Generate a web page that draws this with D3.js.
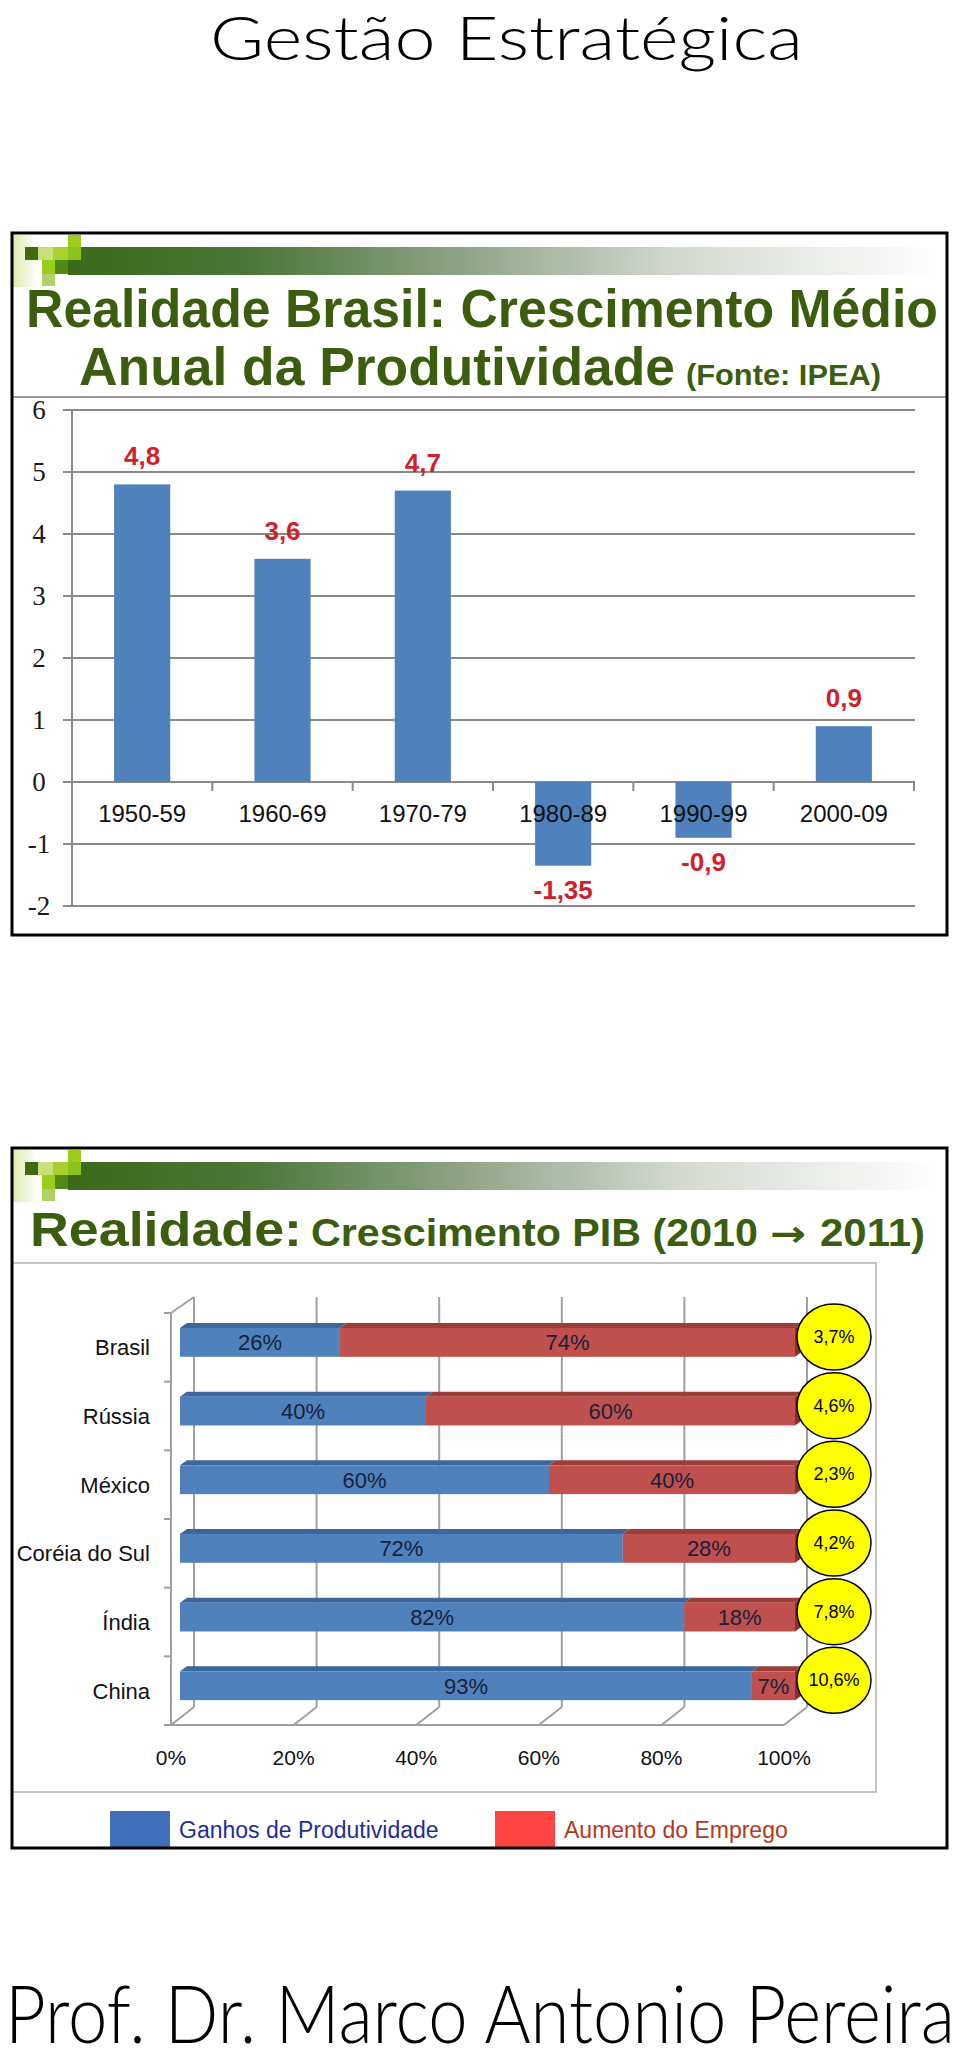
<!DOCTYPE html>
<html><head><meta charset="utf-8">
<script src="https://cdn.jsdelivr.net/npm/d3@7"></script>
<style>body{margin:0;background:#fff}svg{display:block}</style>
</head><body><svg id="c" width="960" height="2055"></svg>
<script>
// ---------- data ----------
const periods = ["1950-59","1960-69","1970-79","1980-89","1990-99","2000-09"];
const productivity = [4.8, 3.6, 4.7, -1.35, -0.9, 0.9];
const yTicks1 = [-2,-1,0,1,2,3,4,5,6];

const countries = ["Brasil","Rússia","México","Coréia do Sul","Índia","China"];
const ganhos = [26, 40, 60, 72, 82, 93];
const emprego = [74, 60, 40, 28, 18, 7];
const pib = [3.7, 4.6, 2.3, 4.2, 7.8, 10.6];
const xTicks2 = [0, 20, 40, 60, 80, 100];
const seriesNames = ["Ganhos de Produtividade", "Aumento do Emprego"];

// ---------- setup ----------
const loc = d3.formatLocale({decimal: ",", thousands: ".", grouping: [3], currency: ["R$", ""], minus: "-"});
const fmtVal = loc.format(".2~f");
const fmtPib = v => loc.format(".1f")(v) + "%";
const fmtPct = v => v + "%";

const svg = d3.select("#c");
const defs = svg.append("defs");
const hb = defs.append("linearGradient").attr("id","hb").attr("x1",0).attr("x2",1).attr("y1",0).attr("y2",0);
[[0,"#3a6a1a"],[0.2,"#4a7636"],[0.45,"#8fa287"],[0.7,"#d3d9d0"],[1,"#ffffff"]]
  .forEach(([o,c]) => hb.append("stop").attr("offset",o).attr("stop-color",c));
const pl = defs.append("linearGradient").attr("id","pl").attr("x1",0).attr("x2",1).attr("y1",0).attr("y2",0);
[[0,"#dcecaa"],[1,"#ffffff"]].forEach(([o,c]) => pl.append("stop").attr("offset",o).attr("stop-color",c));

const SANS = "'Liberation Sans', Arial, sans-serif";
const NARROW = "'Liberation Sans Narrow', 'Liberation Sans', Arial, sans-serif";
const DECO = "Lato, 'Open Sans', sans-serif";

// header
svg.append("text").attr("x",210).attr("y",60)
  .attr("textLength",593).attr("lengthAdjust","spacingAndGlyphs")
  .style("font-family",DECO).style("font-size","62px").style("font-weight",300)
  .text("Gestão Estratégica");

function deco(T){
  const g = svg.append("g");
  g.append("rect").attr("x",13).attr("y",T+2).attr("width",24).attr("height",52).attr("fill","url(#pl)");
  g.append("rect").attr("x",68).attr("y",T+14).attr("width",872).attr("height",28).attr("fill","url(#hb)");
  const sq = [[68,T+2,13,12,"#9ccc1c"],[25,T+14,13,13,"#3d6b12"],[38,T+14,15,13,"#c8e07a"],
              [53,T+14,15,13,"#a8d030"],[68,T+14,13,13,"#8cc21a"],[42,T+27,13,14,"#9ccc1c"],
              [55,T+27,13,14,"#4e8a18"],[42,T+41,13,12,"#b0d068"]];
  sq.forEach(s => g.append("rect").attr("x",s[0]).attr("y",s[1]).attr("width",s[2]).attr("height",s[3]).attr("fill",s[4]));
}

// ---------- panel 1 ----------
deco(233);
const TG = "#3a5e0e";
svg.append("text").attr("x",26).attr("y",327).attr("textLength",912).attr("lengthAdjust","spacingAndGlyphs")
  .style("font-family",NARROW).style("font-weight","bold").style("font-size","53px").attr("fill",TG)
  .text("Realidade Brasil: Crescimento Médio");
svg.append("text").attr("x",79).attr("y",385).attr("textLength",596).attr("lengthAdjust","spacingAndGlyphs")
  .style("font-family",NARROW).style("font-weight","bold").style("font-size","53px").attr("fill",TG)
  .text("Anual da  Produtividade");
svg.append("text").attr("x",686).attr("y",385).attr("textLength",195).attr("lengthAdjust","spacingAndGlyphs")
  .style("font-family",NARROW).style("font-weight","bold").style("font-size","30px").attr("fill",TG)
  .text("(Fonte: IPEA)");
svg.append("line").attr("x1",12).attr("x2",947).attr("y1",397).attr("y2",397).attr("stroke","#9a9a9a").attr("stroke-width",2);

const y1 = d3.scaleLinear().domain([-2,6]).range([906,410]);
const x1 = d3.scaleBand().domain(periods).range([72,914]).paddingInner(0.6).paddingOuter(0.3);
const c1 = svg.append("g");
const GRID = "#8a8a8a";
c1.selectAll("line.grid").data(yTicks1).join("line").attr("class","grid")
  .attr("x1",63).attr("x2",915).attr("y1",d=>y1(d)).attr("y2",d=>y1(d))
  .attr("stroke",GRID).attr("stroke-width",2);
c1.append("line").attr("x1",72).attr("x2",72).attr("y1",y1(6)).attr("y2",y1(-2)).attr("stroke",GRID).attr("stroke-width",2);
c1.selectAll("text.yt").data(yTicks1).join("text").attr("class","yt")
  .attr("x",39).attr("y",d=>y1(d)+9).attr("text-anchor","middle")
  .style("font-family","'Liberation Serif', serif").style("font-size","27px").attr("fill","#1a1a1a")
  .text(d=>d);
const step1 = x1.step();
c1.selectAll("line.bt").data(d3.range(1,7)).join("line").attr("class","bt")
  .attr("x1",d=>72+d*step1).attr("x2",d=>72+d*step1).attr("y1",y1(0)).attr("y2",y1(0)+9)
  .attr("stroke",GRID).attr("stroke-width",2);
c1.selectAll("rect.bar").data(productivity).join("rect").attr("class","bar")
  .attr("x",(d,i)=>x1(periods[i])).attr("width",x1.bandwidth())
  .attr("y",d=>Math.min(y1(d),y1(0))).attr("height",d=>Math.abs(y1(d)-y1(0)))
  .attr("fill","#4f81bd");
c1.selectAll("text.cat").data(periods).join("text").attr("class","cat")
  .attr("x",d=>x1(d)+x1.bandwidth()/2).attr("y",822).attr("text-anchor","middle")
  .style("font-family",SANS).style("font-size","24px").attr("fill","#111").text(d=>d);
c1.selectAll("text.val").data(productivity).join("text").attr("class","val")
  .attr("x",(d,i)=>x1(periods[i])+x1.bandwidth()/2)
  .attr("y",d=> d>=0 ? y1(d)-19 : y1(d)+33).attr("text-anchor","middle")
  .style("font-family",SANS).style("font-weight","bold").style("font-size","26px").attr("fill","#d11f2b")
  .text(d=>fmtVal(d));

svg.append("rect").attr("x",12).attr("y",233).attr("width",935).attr("height",702)
  .attr("fill","none").attr("stroke","#000").attr("stroke-width",3);

// ---------- panel 2 ----------
deco(1148);
const t2 = svg.append("text").attr("y",1246).attr("fill",TG)
  .style("font-family",NARROW).style("font-weight","bold");
t2.append("tspan").attr("x",30).attr("textLength",272).attr("lengthAdjust","spacingAndGlyphs")
  .style("font-size","49px").text("Realidade:");
t2.append("tspan").attr("x",311).attr("textLength",447).attr("lengthAdjust","spacingAndGlyphs")
  .style("font-size","39px").text("Crescimento PIB (2010");
t2.append("tspan").attr("x",770).attr("textLength",36).attr("lengthAdjust","spacingAndGlyphs")
  .style("font-family","'DejaVu Sans', sans-serif").style("font-size","36px").text("\u2192");
t2.append("tspan").attr("x",820).attr("textLength",105).attr("lengthAdjust","spacingAndGlyphs")
  .style("font-size","39px").text("2011)");

svg.append("rect").attr("x",12).attr("y",1263).attr("width",864).attr("height",529)
  .attr("fill","none").attr("stroke","#b0b0b0").attr("stroke-width",1.5);

const c2 = svg.append("g");
const gx = d3.scaleLinear().domain([0,100]).range([171,784]);   // floor front
const bx = d3.scaleLinear().domain([0,100]).range([180,795]);   // bar front faces
const yb = d3.scaleBand().domain(countries).range([1313,1725]);
const DX = 23, DY = 18, GRID2 = "#a0a0a0";
const backTop = 1297, backBottom = 1707, floorFront = 1725;
c2.selectAll("line.vg").data(xTicks2).join("line").attr("class","vg")
  .attr("x1",d=>gx(d)+DX).attr("x2",d=>gx(d)+DX).attr("y1",backTop).attr("y2",backBottom)
  .attr("stroke",GRID2).attr("stroke-width",2);
c2.selectAll("line.fd").data(xTicks2).join("line").attr("class","fd")
  .attr("x1",d=>gx(d)+DX).attr("x2",d=>gx(d)).attr("y1",backBottom).attr("y2",floorFront)
  .attr("stroke",GRID2).attr("stroke-width",2);
c2.append("line").attr("x1",gx(0)).attr("x2",gx(100)).attr("y1",floorFront).attr("y2",floorFront)
  .attr("stroke",GRID2).attr("stroke-width",2);
c2.append("line").attr("x1",gx(0)).attr("x2",gx(0)).attr("y1",backTop+DY-2).attr("y2",floorFront)
  .attr("stroke",GRID2).attr("stroke-width",2);
c2.append("line").attr("x1",gx(0)).attr("x2",gx(0)+DX).attr("y1",backTop+DY-2).attr("y2",backTop)
  .attr("stroke",GRID2).attr("stroke-width",2);
const bounds = countries.map(c=>yb(c)).concat([1725]);
c2.selectAll("line.lt").data(bounds).join("line").attr("class","lt")
  .attr("x1",gx(0)-7).attr("x2",gx(0)).attr("y1",d=>d).attr("y2",d=>d)
  .attr("stroke",GRID2).attr("stroke-width",2);

const st = yb.step();
const faceY = c => yb(c) + st*0.218, faceH = st*0.42;
const ddx = 7, ddy = 5;
const segs = [];
countries.forEach((c,i)=>{
  segs.push({c, s:0, e:ganhos[i], v:ganhos[i], front:"#4f81bd", top:"#3c669e", side:"#35598a"});
  segs.push({c, s:ganhos[i], e:ganhos[i]+emprego[i], v:emprego[i], front:"#c0504d", top:"#9c3d3a", side:"#8a302d"});
});
c2.selectAll("polygon.top").data(segs).join("polygon").attr("class","top")
  .attr("points",d=>{const x0=bx(d.s),x1_=bx(d.e),y=faceY(d.c);
    return [[x0,y],[x0+ddx,y-ddy],[x1_+ddx,y-ddy],[x1_,y]].map(p=>p.join(",")).join(" ");})
  .attr("fill",d=>d.top);
c2.selectAll("polygon.side").data(segs.filter((d,i)=>i%2===1)).join("polygon").attr("class","side")
  .attr("points",d=>{const x=bx(d.e),y=faceY(d.c);
    return [[x,y],[x+ddx,y-ddy],[x+ddx,y+faceH-ddy],[x,y+faceH]].map(p=>p.join(",")).join(" ");})
  .attr("fill",d=>d.side);
c2.selectAll("rect.seg").data(segs).join("rect").attr("class","seg")
  .attr("x",d=>bx(d.s)).attr("width",d=>bx(d.e)-bx(d.s))
  .attr("y",d=>faceY(d.c)).attr("height",faceH).attr("fill",d=>d.front);
c2.selectAll("text.sl").data(segs).join("text").attr("class","sl")
  .attr("x",d=>(bx(d.s)+bx(d.e))/2).attr("y",d=>faceY(d.c)+faceH/2+8).attr("text-anchor","middle")
  .style("font-family",SANS).style("font-size","22px").attr("fill","#18213a").text(d=>fmtPct(d.v));

c2.selectAll("text.cc").data(countries).join("text").attr("class","cc")
  .attr("x",150).attr("y",c=>yb(c)+st/2+8).attr("text-anchor","end")
  .style("font-family",SANS).style("font-size","22px").attr("fill","#111").text(c=>c);
c2.selectAll("text.xl").data(xTicks2).join("text").attr("class","xl")
  .attr("x",d=>gx(d)).attr("y",1765).attr("text-anchor","middle")
  .style("font-family",SANS).style("font-size","21px").attr("fill","#111").text(d=>d+"%");

c2.selectAll("ellipse.pib").data(pib).join("ellipse").attr("class","pib")
  .attr("cx",834).attr("cy",(d,i)=>yb(countries[i])+24).attr("rx",37).attr("ry",33)
  .attr("fill","#ffff00").attr("stroke","#000").attr("stroke-width",1.5);
c2.selectAll("text.pt").data(pib).join("text").attr("class","pt")
  .attr("x",834).attr("y",(d,i)=>yb(countries[i])+24+6).attr("text-anchor","middle")
  .style("font-family",SANS).style("font-size","18px").attr("fill","#000").text(d=>fmtPib(d));

const lg = svg.append("g");
const legColors = ["#3f6fb8","#ff4444"], legText = ["#1c2e96","#b23a1a"], legX = [110,495];
seriesNames.forEach((n,i)=>{
  lg.append("rect").attr("x",legX[i]).attr("y",1811).attr("width",60).attr("height",37).attr("fill",legColors[i]);
  lg.append("text").attr("x",legX[i]+69).attr("y",1838)
    .style("font-family",SANS).style("font-size","23px").attr("fill",legText[i]).text(n);
});

svg.append("rect").attr("x",12).attr("y",1148).attr("width",935).attr("height",700)
  .attr("fill","none").attr("stroke","#000").attr("stroke-width",3);

svg.append("text").attr("x",5).attr("y",2043)
  .attr("textLength",950).attr("lengthAdjust","spacingAndGlyphs")
  .style("font-family",DECO).style("font-size","80px").style("font-weight",300)
  .text("Prof. Dr. Marco Antonio Pereira");
</script></body></html>
